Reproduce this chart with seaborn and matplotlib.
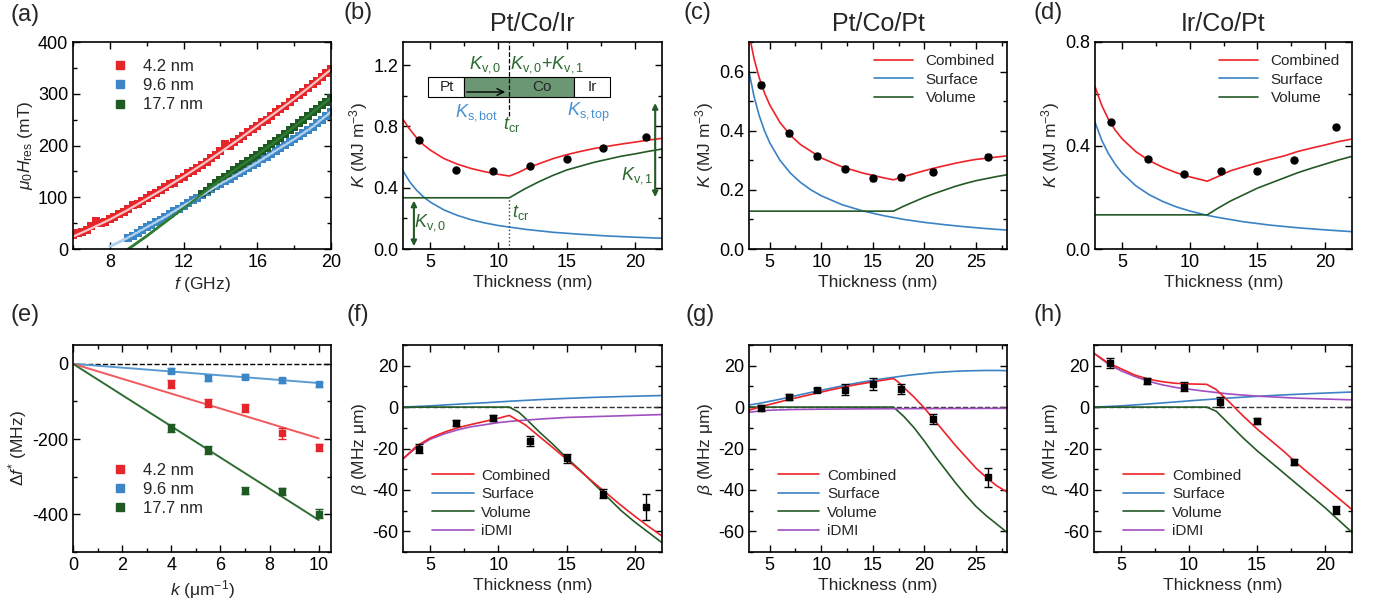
import numpy as np
import pandas as pd
import seaborn as sns
import matplotlib
matplotlib.use('Agg')
import matplotlib.pyplot as plt
from matplotlib.patches import Rectangle
from matplotlib.lines import Line2D
from matplotlib.ticker import AutoMinorLocator, MultipleLocator

# ---------------- data ----------------
# (a) resonance field vs frequency (measured every 0.25 GHz)
a_f_red = np.arange(6, 20.01, 0.25)
a_h_red = [27, 30, 33, 37, 44, 54, 50, 53, 58, 62, 67, 71, 77, 85, 87, 92, 98, 104, 109,
           114, 119, 125, 128, 135, 140, 147, 151, 157, 163, 169, 175, 181, 190, 203, 200,
           206, 212, 219, 226, 232, 238, 245, 250, 257, 264, 270, 277, 284, 292, 297, 304,
           311, 318, 325, 332, 340, 348]
a_f_blue = np.arange(9, 20.01, 0.25)
a_h_blue = [21, 26, 31, 37, 42, 47, 52, 57, 62, 67, 73, 78, 84, 89, 94, 99, 104, 110, 115,
            121, 126, 131, 136, 141, 146, 151, 156, 162, 167, 173, 178, 184, 190, 195, 201,
            206, 212, 218, 224, 230, 236, 243, 250, 257, 265]
a_f_green = np.arange(13, 20.01, 0.25)
a_h_green = [106, 113, 120, 127, 133, 139, 145, 152, 158, 164, 170, 176, 182, 189, 195,
             202, 208, 215, 222, 229, 236, 243, 250, 257, 264, 271, 278, 285, 292]
a_fit_f_red = [6, 7, 8, 9, 10, 11, 12, 13, 14, 15, 16, 17, 18, 19, 20]
a_fit_h_red = [24, 40, 57, 76, 97, 118, 140, 163, 187, 212, 238, 264, 290, 318, 347]
a_fit_f_blue = [8, 9, 10, 11, 12, 13, 14, 15, 16, 17, 18, 19, 20]
a_fit_h_blue = [5, 22, 42, 62, 84, 104, 126, 146, 167, 190, 212, 236, 265]
a_fit_f_green = [9, 10, 11, 12, 13, 14, 15, 16, 17, 18, 19, 20]
a_fit_h_green = [0, 25, 52, 79, 106, 133, 158, 182, 208, 236, 264, 292]
thick_labels = ['4.2 nm', '9.6 nm', '17.7 nm']

# (b)-(d) anisotropy
t_bd = [4.2, 6.9, 9.6, 12.3, 15.0, 17.7, 20.8]
t_c = [4.2, 6.9, 9.6, 12.3, 15.0, 17.7, 20.8, 26.2]
b_K = [0.709, 0.517, 0.506, 0.541, 0.589, 0.661, 0.729]
c_K = [0.556, 0.391, 0.314, 0.271, 0.239, 0.243, 0.262, 0.312]
d_K = [0.492, 0.348, 0.291, 0.300, 0.303, 0.343, 0.472]

b_x_comb = [3, 3.5, 4, 4.5, 5, 6, 7, 8, 9, 10, 10.8, 11.5, 12, 13, 14, 15, 16, 17, 18, 19, 20, 21, 22]
b_y_comb = [0.845, 0.78, 0.725, 0.68, 0.645, 0.59, 0.553, 0.525, 0.504, 0.487, 0.476, 0.50,
            0.523, 0.557, 0.589, 0.615, 0.636, 0.655, 0.670, 0.684, 0.697, 0.710, 0.722]
b_x_surf = [3, 3.5, 4, 4.5, 5, 6, 7, 8, 9, 10, 12, 14, 16, 18, 20, 22]
b_y_surf = [0.51, 0.437, 0.383, 0.34, 0.306, 0.255, 0.219, 0.191, 0.17, 0.153,
            0.128, 0.109, 0.096, 0.085, 0.077, 0.070]
b_x_vol = [3, 10.8, 11.5, 12, 13, 14, 15, 16, 17, 18, 19, 20, 21, 22]
b_y_vol = [0.334, 0.334, 0.37, 0.395, 0.44, 0.48, 0.515, 0.54, 0.565, 0.585, 0.605,
           0.62, 0.637, 0.652]
b_tcr = 10.8

c_x_comb = [3, 3.5, 4, 4.5, 5, 6, 7, 8, 10, 12, 14, 16, 17, 18, 19, 20, 21, 22, 23, 24, 25, 26, 27, 28]
c_y_comb = [0.728, 0.642, 0.578, 0.528, 0.488, 0.428, 0.385, 0.353, 0.308, 0.278, 0.257,
            0.241, 0.234, 0.245, 0.255, 0.265, 0.274, 0.282, 0.29, 0.297, 0.303, 0.307,
            0.311, 0.315]
c_x_surf = [3, 3.5, 4, 4.5, 5, 6, 7, 8, 9, 10, 12, 14, 16, 18, 20, 22, 24, 26, 28]
c_y_surf = [0.6, 0.514, 0.45, 0.40, 0.36, 0.30, 0.257, 0.225, 0.2, 0.18, 0.15, 0.129,
            0.113, 0.1, 0.09, 0.082, 0.075, 0.069, 0.064]
c_x_vol = [3, 17, 18, 19, 20, 21, 22, 23, 24, 25, 26, 27, 28]
c_y_vol = [0.128, 0.128, 0.145, 0.16, 0.175, 0.188, 0.2, 0.212, 0.222, 0.231, 0.238, 0.245, 0.251]

d_x_comb = [3, 3.5, 4, 4.5, 5, 6, 7, 8, 9, 10, 11.3, 12, 13, 14, 15, 16, 17, 18, 19, 20, 21, 22]
d_y_comb = [0.628, 0.555, 0.50, 0.459, 0.426, 0.377, 0.342, 0.316, 0.295, 0.279, 0.262,
            0.278, 0.302, 0.318, 0.333, 0.347, 0.36, 0.377, 0.39, 0.402, 0.415, 0.425]
d_x_surf = [3, 3.5, 4, 4.5, 5, 6, 7, 8, 9, 10, 11.3, 12, 14, 16, 18, 20, 22]
d_y_surf = [0.49, 0.42, 0.368, 0.327, 0.294, 0.245, 0.21, 0.184, 0.163, 0.147, 0.13,
            0.123, 0.105, 0.092, 0.082, 0.074, 0.067]
d_x_vol = [3, 11.3, 12, 13, 14, 15, 16, 17, 18, 19, 20, 21, 22]
d_y_vol = [0.132, 0.132, 0.155, 0.185, 0.21, 0.235, 0.255, 0.275, 0.295, 0.312, 0.328, 0.344, 0.358]

# (e) frequency shift vs k
e_k = [4, 5.5, 7, 8.5, 10]
e_df_red = [-53, -105, -117, -185, -222]
e_err_red = [10, 11, 10, 15, 10]
e_df_blue = [-18.5, -38, -34, -44, -54]
e_err_blue = [7, 7, 7, 7, 7]
e_df_green = [-170, -229, -337, -339, -398]
e_err_green = [11, 11, 10, 10, 11]
e_fit_k = [0, 10]
e_fit_red = [0, -198]
e_fit_blue = [0, -51]
e_fit_green = [0, -415]

# (f)-(h) beta
f_beta = [-20, -7.5, -5.1, -16.3, -24.8, -41.8, -48.2]
f_err = [2, 1.5, 1.5, 2.5, 2, 2, 6.4]
g_beta = [-0.5, 5, 8.2, 8.5, 11.2, 8.6, -5.6, -34]
g_err = [1.5, 1.5, 1, 2.5, 3, 2.5, 2.5, 4.5]
h_beta = [21.4, 12.5, 9.9, 2.6, -6.6, -26.7, -49.6]
h_err = [2.5, 1.5, 2, 2.5, 1.5, 1.5, 2]

f_x_comb = [3, 4, 5, 6, 7, 8, 9, 10, 10.8, 12, 13, 14, 15, 16, 17, 18, 19, 20, 21, 22]
f_y_comb = [-25, -18.8, -14.9, -12.2, -10, -8.4, -6.9, -5.4, -4, -8.7, -14.2, -19.6,
            -25.2, -30.9, -36.5, -42, -47.5, -52.7, -57.6, -62.3]
f_x_surf = [3, 5, 7, 9, 11, 13, 15, 17, 19, 22]
f_y_surf = [0, 0.6, 1.4, 2.1, 2.9, 3.6, 4.2, 4.7, 5.1, 5.6]
f_x_vol = [3, 10.8, 11.5, 12, 13, 14, 15, 16, 17, 17.7, 18, 19, 20, 21, 22]
f_y_vol = [0, 0, -2.5, -5.5, -12, -18, -24.5, -30.5, -37, -41.5, -43.5, -50, -55.5, -60.5, -65.5]
f_x_dmi = [3, 4, 5, 6, 7, 8, 10, 11, 13, 15, 18, 20, 22]
f_y_dmi = [-25, -19.5, -15.5, -13, -11, -9.5, -7.5, -6.8, -5.8, -5, -4.4, -4, -3.6]

g_x_comb = [3, 5, 7, 9, 11, 13, 15, 16, 17, 17.5, 18, 19, 20, 21, 22, 23, 24, 25, 26, 27, 28]
g_y_comb = [-1.5, 1.3, 3.8, 6.1, 8.4, 10.5, 12.2, 13, 13.8, 12, 9.5, 4.8, -0.5, -6.5,
            -12.5, -18.5, -24, -29.5, -34, -38, -41]
g_x_surf = [3, 4, 5, 6, 7, 8, 9, 10, 11, 12, 13, 14, 15, 16, 17, 18, 19, 20, 21, 22,
            23, 24, 25, 26, 27, 28]
g_y_surf = [1, 1.8, 2.8, 3.8, 4.9, 6, 7.1, 8.1, 9.2, 10.2, 11.2, 12.1, 12.9, 13.7,
            14.4, 15.1, 15.7, 16.2, 16.7, 17.0, 17.3, 17.5, 17.6, 17.7, 17.7, 17.6]
g_x_vol = [3, 17, 18, 19, 20, 21, 22, 23, 24, 25, 26, 27, 28]
g_y_vol = [0, 0, -4.5, -10, -16.5, -23.5, -30, -36.5, -42.5, -48, -52.5, -56.5, -60.5]
g_x_dmi = [3, 4, 5, 7, 10, 14, 18, 22, 28]
g_y_dmi = [-2.5, -1.9, -1.5, -1.2, -1.0, -0.85, -0.75, -0.7, -0.6]

h_x_comb = [3, 4, 5, 6, 7, 8, 9, 10, 11.3, 12, 13, 14, 15, 16, 17, 18, 19, 20, 21, 22]
h_y_comb = [26, 21.5, 18.5, 15.5, 13.5, 12.3, 11.5, 11.2, 11, 8.5, 2.2, -4.4, -10.5,
            -16, -21.5, -27.5, -33, -38.5, -44, -49.5]
h_x_surf = [3, 5, 7, 9, 11, 13, 15, 17, 19, 22]
h_y_surf = [0, 0.6, 1.5, 2.5, 3.5, 4.4, 5.2, 5.9, 6.5, 7.3]
h_x_vol = [3, 11.3, 12, 13, 14, 15, 16, 17, 18, 19, 20, 21, 22]
h_y_vol = [0, 0, -2, -8.5, -15, -21, -26.5, -32, -37.5, -43, -48.5, -54.5, -60.5]
h_x_dmi = [3, 4, 5, 6, 7, 8, 9, 11, 13, 15, 18, 22]
h_y_dmi = [26, 21, 17.5, 14.8, 12.5, 10.8, 9.5, 7.8, 6.3, 5.3, 4.3, 3.5]

series_labels = ['Combined', 'Surface', 'Volume', 'iDMI']

# ---------------- style ----------------
sns.set_theme(style='ticks')
plt.rcParams['font.family'] = ['Liberation Sans', 'DejaVu Sans']
plt.rcParams['mathtext.fontset'] = 'custom'
plt.rcParams['mathtext.rm'] = 'Liberation Sans'
plt.rcParams['mathtext.it'] = 'Liberation Sans:italic'
plt.rcParams['mathtext.bf'] = 'Liberation Sans:bold'
plt.rcParams['axes.unicode_minus'] = False

RED = '#ee2228'
BLUE = '#3b82c4'
GREEN = '#245a26'
PURPLE = '#a04fc0'
PT_RED = '#e4262b'
PT_BLUE = '#3c86c6'
PT_GREEN = '#1f5a22'
ANN_GREEN = '#2a6a30'
ANN_BLUE = '#4a90d0'

W, H = 1375, 609
fig = plt.figure(figsize=(W / 100, H / 100), dpi=100)


def make_ax(l, r, t, b):
    return fig.add_axes([l / W, 1 - b / H, (r - l) / W, (b - t) / H])


def style(ax, xmaj, ymaj):
    ax.xaxis.set_major_locator(MultipleLocator(xmaj))
    ax.yaxis.set_major_locator(MultipleLocator(ymaj))
    ax.xaxis.set_minor_locator(AutoMinorLocator(2))
    ax.yaxis.set_minor_locator(AutoMinorLocator(2))
    ax.tick_params(which='both', direction='in', top=True, right=True,
                   labelsize=13, width=1, colors='black')
    ax.tick_params(which='major', length=5)
    ax.tick_params(which='minor', length=3)
    for s in ax.spines.values():
        s.set_linewidth(1.2)
        s.set_color('black')


def labels(ax, xl, yl):
    ax.set_xlabel(xl, fontsize=12.5, labelpad=3)
    ax.set_ylabel(yl, fontsize=12.5, labelpad=2)


def line(ax, x, y, c, lw=1.2):
    sns.lineplot(x=x, y=y, color=c, lw=lw, ax=ax, legend=False, estimator=None, sort=False)


def panel_label(x, y, s):
    fig.text(x / W, 1 - y / H, s, fontsize=17, ha='center', va='center')


# ---------------- (a) ----------------
ax = make_ax(73, 331, 42, 249)
line(ax, a_fit_f_blue, a_fit_h_blue, '#a9cbe9', lw=2)
line(ax, a_fit_f_green, a_fit_h_green, '#2f7d34', lw=2)
for fx, hy, c in [(a_f_red, a_h_red, PT_RED), (a_f_blue, a_h_blue, PT_BLUE),
                  (a_f_green, a_h_green, PT_GREEN)]:
    ax.errorbar(fx, hy, yerr=3, fmt='none', ecolor=c, capsize=2, lw=0.8)
    sns.scatterplot(x=fx, y=hy, color=c, marker='s', s=26, linewidth=0, ax=ax, legend=False)
line(ax, a_fit_f_red, a_fit_h_red, '#f9c3c3', lw=1.6)
line(ax, a_fit_f_blue, a_fit_h_blue, '#b2d2ee', lw=1.4)
line(ax, a_fit_f_green, a_fit_h_green, '#2f7d34', lw=1.4)
ax.set_xlim(6, 20)
ax.set_ylim(0, 400)
style(ax, 4, 100)
labels(ax, '$f$ (GHz)', r'$\mu_0H_{\rm res}$ (mT)')
handles = [Line2D([], [], ls='none', marker='s', ms=6, color=c) for c in (PT_RED, PT_BLUE, PT_GREEN)]
ax.legend(handles, thick_labels, loc='upper left', bbox_to_anchor=(0.09, 0.99), frameon=False,
          fontsize=12, handletextpad=0.9, labelspacing=0.25, handlelength=1)
panel_label(25, 15, '(a)')

# ---------------- (b)-(d) ----------------
K_panels = [
    ((403, 662), t_bd, b_K, (b_x_comb, b_y_comb), (b_x_surf, b_y_surf), (b_x_vol, b_y_vol),
     (3, 22), (0, 1.35), 0.4, 'Pt/Co/Ir', (358, 13), '(b)'),
    ((749, 1007), t_c, c_K, (c_x_comb, c_y_comb), (c_x_surf, c_y_surf), (c_x_vol, c_y_vol),
     (3, 28), (0, 0.7), 0.2, 'Pt/Co/Pt', (697, 13), '(c)'),
    ((1095, 1352), t_bd, d_K, (d_x_comb, d_y_comb), (d_x_surf, d_y_surf), (d_x_vol, d_y_vol),
     (3, 22), (0, 0.8), 0.4, 'Ir/Co/Pt', (1048, 13), '(d)'),
]
K_axes = []
for (l, r), tx, ky, comb, surf, vol, xl, yl, ymaj, title, lab, name in K_panels:
    ax = make_ax(l, r, 42, 249)
    line(ax, surf[0], surf[1], BLUE)
    line(ax, vol[0], vol[1], GREEN)
    line(ax, comb[0], comb[1], RED)
    ax.errorbar(tx, ky, yerr=0.008, fmt='o', color='black', ms=5, capsize=2, lw=0.8, zorder=5)
    ax.set_xlim(*xl)
    ax.set_ylim(*yl)
    style(ax, 5, ymaj)
    labels(ax, 'Thickness (nm)', r'$K$ (MJ m$^{-3}$)')
    ax.set_title(title, fontsize=18, pad=8)
    panel_label(lab[0], lab[1], name)
    K_axes.append(ax)

for ax in K_axes[1:]:
    handles = [Line2D([], [], color=c, lw=1.2) for c in (RED, BLUE, GREEN)]
    ax.legend(handles, series_labels[:3], loc='upper right', frameon=False, fontsize=11,
              handlelength=2.6, labelspacing=0.3, borderaxespad=0.4)

# inset sketch and annotations in (b)
ax = K_axes[0]
ax.add_patch(Rectangle((4.83, 0.991), 7.48 - 4.83, 0.131, fc='white', ec='black', lw=0.8))
ax.add_patch(Rectangle((7.48, 0.991), 15.55 - 7.48, 0.131, fc='#6b9773', ec='black', lw=0.8))
ax.add_patch(Rectangle((15.55, 0.991), 18.2 - 15.55, 0.131, fc='white', ec='black', lw=0.8))
ax.text(6.2, 1.056, 'Pt', fontsize=11, ha='center', va='center')
ax.text(13.2, 1.056, 'Co', fontsize=11, ha='center', va='center')
ax.text(16.9, 1.056, 'Ir', fontsize=11, ha='center', va='center')
ax.annotate('', xy=(b_tcr - 0.1, 1.024), xytext=(7.48, 1.024),
            arrowprops=dict(arrowstyle='->', lw=1, color='black'))
ax.vlines(b_tcr, 0.87, 1.35, colors='black', linestyles='--', lw=0.9)
ax.vlines(b_tcr, 0, 0.334, colors=GREEN, linestyles=':', lw=1)
ax.text(9.0, 1.20, r'$K_{\rm v,0}$', color=ANN_GREEN, fontsize=13, ha='center', va='center')
ax.text(13.6, 1.20, r'$K_{\rm v,0}$+$K_{\rm v,1}$', color=ANN_GREEN, fontsize=13,
        ha='center', va='center')
ax.text(8.4, 0.89, r'$K_{\rm s,bot}$', color=ANN_BLUE, fontsize=13, ha='center', va='center')
ax.text(16.6, 0.89, r'$K_{\rm s,top}$', color=ANN_BLUE, fontsize=13, ha='center', va='center')
ax.text(11.0, 0.81, r'$t_{\rm cr}$', color=ANN_GREEN, fontsize=13, ha='center', va='center')
ax.text(11.6, 0.235, r'$t_{\rm cr}$', color=ANN_GREEN, fontsize=13, ha='center', va='center')
ax.text(5.0, 0.17, r'$K_{\rm v,0}$', color=ANN_GREEN, fontsize=13, ha='center', va='center')
ax.text(20.2, 0.48, r'$K_{\rm v,1}$', color=ANN_GREEN, fontsize=13, ha='center', va='center')
ax.annotate('', xy=(3.8, 0), xytext=(3.8, 0.334),
            arrowprops=dict(arrowstyle='<|-|>', lw=1.5, color=GREEN, mutation_scale=8))
ax.annotate('', xy=(21.5, 0.32), xytext=(21.5, 0.97),
            arrowprops=dict(arrowstyle='<|-|>', lw=1.5, color=GREEN, mutation_scale=8))

# ---------------- (e) ----------------
ax = make_ax(73, 331, 345, 552)
ax.axhline(0, color='black', ls='--', lw=1)
for fit, pts, err, lc, pc in [(e_fit_blue, e_df_blue, e_err_blue, '#5a9ad3', PT_BLUE),
                              (e_fit_red, e_df_red, e_err_red, '#f05a5e', PT_RED),
                              (e_fit_green, e_df_green, e_err_green, '#2f6e33', PT_GREEN)]:
    line(ax, e_fit_k, fit, lc, lw=1.4)
    ax.errorbar(e_k, pts, yerr=err, fmt='s', color=pc, ms=5, capsize=3, lw=1, zorder=5)
ax.set_xlim(0, 10.5)
ax.set_ylim(-500, 50)
style(ax, 2, 200)
labels(ax, r'$k$ ($\mathrm{\mu}$m$^{-1}$)', r'$\Delta f^{*}$ (MHz)')
handles = [Line2D([], [], ls='none', marker='s', ms=6, color=c) for c in (PT_RED, PT_BLUE, PT_GREEN)]
ax.legend(handles, thick_labels, loc='lower left', bbox_to_anchor=(0.09, 0.1), frameon=False,
          fontsize=12, handletextpad=0.9, labelspacing=0.25, handlelength=1)
panel_label(25, 315, '(e)')

# ---------------- (f)-(h) ----------------
B_panels = [
    ((403, 662), t_bd, f_beta, f_err, (f_x_comb, f_y_comb), (f_x_surf, f_y_surf),
     (f_x_vol, f_y_vol), (f_x_dmi, f_y_dmi), (3, 22), (358, 315), '(f)'),
    ((749, 1007), t_c, g_beta, g_err, (g_x_comb, g_y_comb), (g_x_surf, g_y_surf),
     (g_x_vol, g_y_vol), (g_x_dmi, g_y_dmi), (3, 28), (700, 315), '(g)'),
    ((1094, 1352), t_bd, h_beta, h_err, (h_x_comb, h_y_comb), (h_x_surf, h_y_surf),
     (h_x_vol, h_y_vol), (h_x_dmi, h_y_dmi), (3, 22), (1048, 315), '(h)'),
]
for (l, r), tx, by, be, comb, surf, vol, dmi, xl, lab, name in B_panels:
    ax = make_ax(l, r, 345, 552)
    ax.axhline(0, color='#333333', ls='--', lw=1)
    line(ax, surf[0], surf[1], BLUE)
    line(ax, vol[0], vol[1], GREEN)
    line(ax, dmi[0], dmi[1], PURPLE)
    line(ax, comb[0], comb[1], RED)
    ax.errorbar(tx, by, yerr=be, fmt='s', color='black', ms=5, capsize=3, lw=1, zorder=5)
    ax.set_xlim(*xl)
    ax.set_ylim(-70, 30)
    style(ax, 5, 20)
    labels(ax, 'Thickness (nm)', r'$\beta$ (MHz $\mathrm{\mu}$m)')
    handles = [Line2D([], [], color=c, lw=1.2) for c in (RED, BLUE, GREEN, PURPLE)]
    ax.legend(handles, series_labels, loc='lower left', bbox_to_anchor=(0.06, 0.0),
              frameon=False, fontsize=11, handlelength=2.7, handletextpad=0.5,
              labelspacing=0.3)
    panel_label(lab[0], lab[1], name)

fig.savefig('out.png', dpi=100)
